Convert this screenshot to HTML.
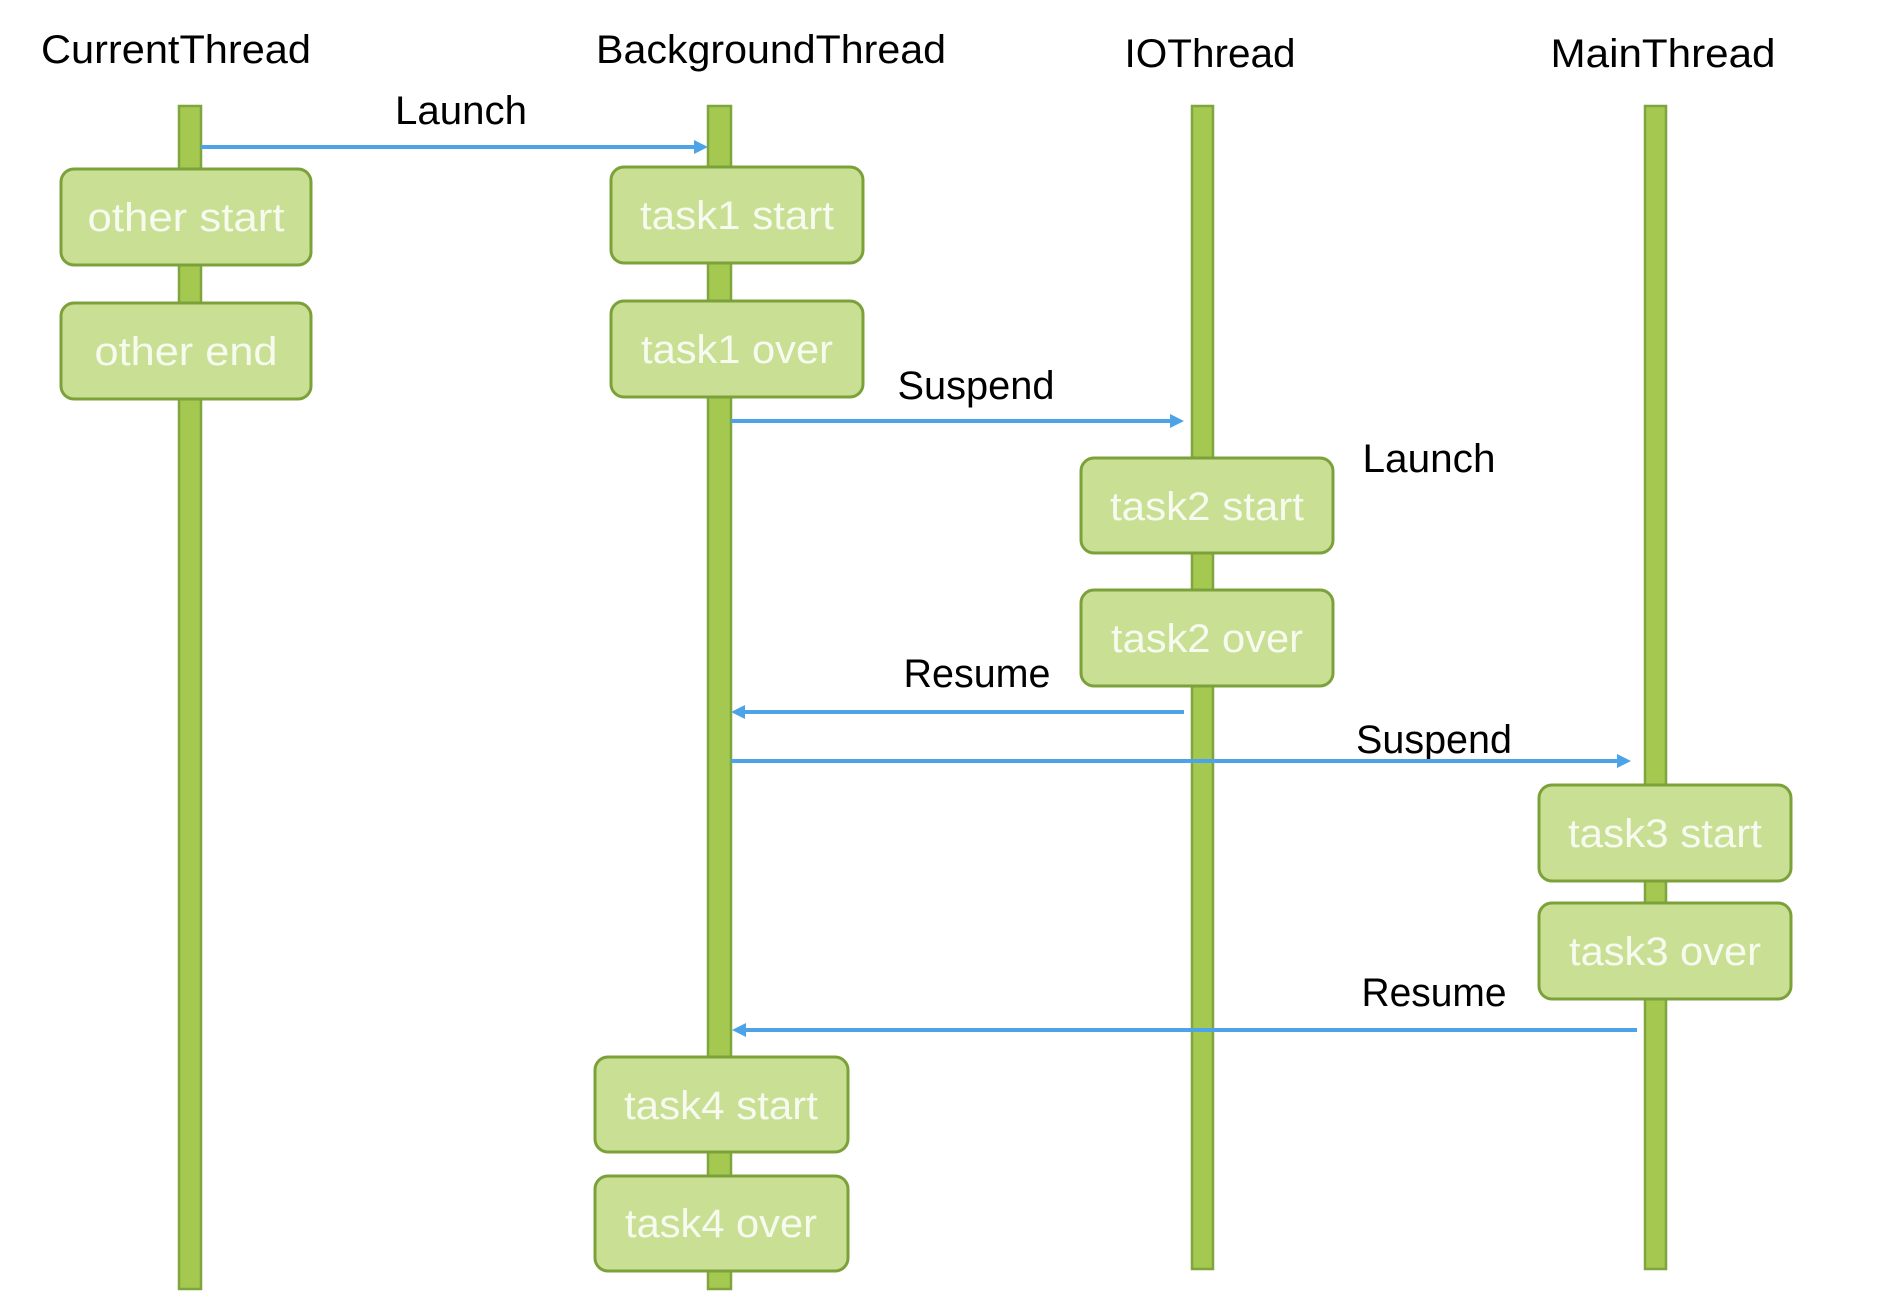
<!DOCTYPE html>
<html><head><meta charset="utf-8"><style>html,body{margin:0;padding:0;background:#fff}</style></head>
<body>
<svg width="1878" height="1308" viewBox="0 0 1878 1308" xmlns="http://www.w3.org/2000/svg" font-family="Liberation Sans, sans-serif">
<g fill="#a5c851" stroke="#7fa53d" stroke-width="2.5">
<rect x="179" y="106" width="22" height="1183"/>
<rect x="708" y="106" width="23" height="1183"/>
<rect x="1192" y="106" width="21" height="1163"/>
<rect x="1645" y="106" width="21" height="1163"/>
</g>
<g font-size="40" fill="#000">
<text x="176" y="63" text-anchor="middle" textLength="270" lengthAdjust="spacingAndGlyphs">CurrentThread</text>
<text x="771" y="63" text-anchor="middle" textLength="350" lengthAdjust="spacingAndGlyphs">BackgroundThread</text>
<text x="1210" y="67" text-anchor="middle" textLength="171" lengthAdjust="spacingAndGlyphs">IOThread</text>
<text x="1663" y="67" text-anchor="middle" textLength="225" lengthAdjust="spacingAndGlyphs">MainThread</text>
<text x="461" y="124" text-anchor="middle" textLength="132" lengthAdjust="spacingAndGlyphs">Launch</text>
<text x="976" y="399" text-anchor="middle" textLength="157" lengthAdjust="spacingAndGlyphs">Suspend</text>
<text x="1429" y="472" text-anchor="middle" textLength="133" lengthAdjust="spacingAndGlyphs">Launch</text>
<text x="977" y="687" text-anchor="middle" textLength="147" lengthAdjust="spacingAndGlyphs">Resume</text>
<text x="1434" y="753" text-anchor="middle" textLength="156" lengthAdjust="spacingAndGlyphs">Suspend</text>
<text x="1434" y="1006" text-anchor="middle" textLength="145" lengthAdjust="spacingAndGlyphs">Resume</text>
</g>
<g stroke="#4da3e8" stroke-width="4" fill="#4da3e8">
<line x1="201" y1="147" x2="696" y2="147"/><polygon points="708,147 694,140 694,154" stroke="none"/>
<line x1="731" y1="421" x2="1172" y2="421"/><polygon points="1184,421 1170,414 1170,428" stroke="none"/>
<line x1="1184" y1="712" x2="743" y2="712"/><polygon points="731,712 745,705 745,719" stroke="none"/>
<line x1="731" y1="761" x2="1619" y2="761"/><polygon points="1631,761 1617,754 1617,768" stroke="none"/>
<line x1="1637" y1="1030" x2="744" y2="1030"/><polygon points="732,1030 746,1023 746,1037" stroke="none"/>
</g>
<g fill="#c9df94" stroke="#7ca13a" stroke-width="3">
<rect x="61" y="169" width="250" height="96" rx="13"/>
<rect x="61" y="303" width="250" height="96" rx="13"/>
<rect x="611" y="167" width="252" height="96" rx="13"/>
<rect x="611" y="301" width="252" height="96" rx="13"/>
<rect x="1081" y="458" width="252" height="95" rx="13"/>
<rect x="1081" y="590" width="252" height="96" rx="13"/>
<rect x="1539" y="785" width="252" height="96" rx="13"/>
<rect x="1539" y="903" width="252" height="96" rx="13"/>
<rect x="595" y="1057" width="253" height="95" rx="13"/>
<rect x="595" y="1176" width="253" height="95" rx="13"/>
</g>
<g font-size="40" fill="#f7fbef" text-anchor="middle">
<text x="186" y="231" textLength="197" lengthAdjust="spacingAndGlyphs">other start</text>
<text x="186" y="365" textLength="183" lengthAdjust="spacingAndGlyphs">other end</text>
<text x="737" y="229" textLength="194" lengthAdjust="spacingAndGlyphs">task1 start</text>
<text x="737" y="363" textLength="192" lengthAdjust="spacingAndGlyphs">task1 over</text>
<text x="1207" y="520" textLength="194" lengthAdjust="spacingAndGlyphs">task2 start</text>
<text x="1207" y="652" textLength="192" lengthAdjust="spacingAndGlyphs">task2 over</text>
<text x="1665" y="847" textLength="194" lengthAdjust="spacingAndGlyphs">task3 start</text>
<text x="1665" y="965" textLength="192" lengthAdjust="spacingAndGlyphs">task3 over</text>
<text x="721" y="1119" textLength="194" lengthAdjust="spacingAndGlyphs">task4 start</text>
<text x="721" y="1237" textLength="192" lengthAdjust="spacingAndGlyphs">task4 over</text>
</g>
</svg>
</body></html>
